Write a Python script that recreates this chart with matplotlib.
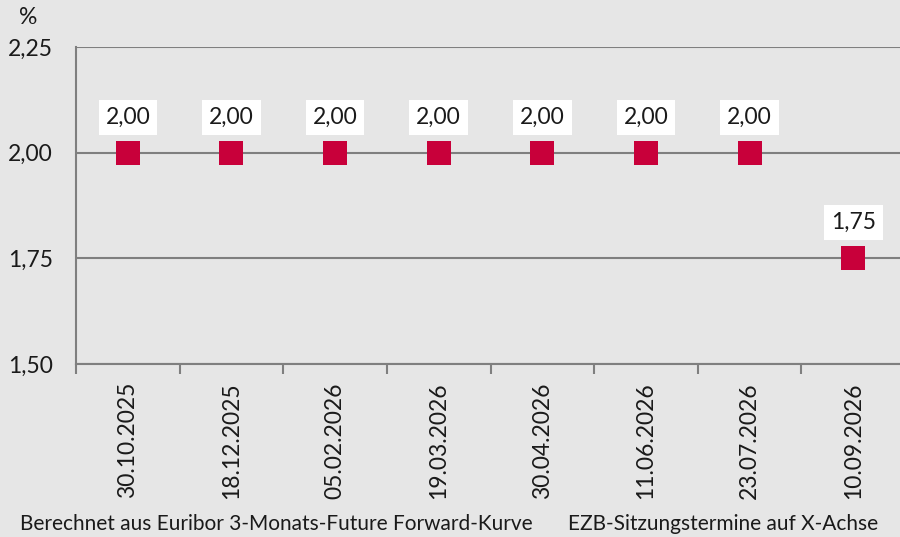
import matplotlib
matplotlib.use("Agg")
import matplotlib.pyplot as plt
import numpy as np

dates = ["30.10.2025", "18.12.2025", "05.02.2026", "19.03.2026",
         "30.04.2026", "11.06.2026", "23.07.2026", "10.09.2026"]
rates = [2.00, 2.00, 2.00, 2.00, 2.00, 2.00, 2.00, 1.75]
yticks = [1.50, 1.75, 2.00, 2.25]

plt.rcParams['font.family'] = ['Lato', 'DejaVu Sans']
bg = "#e6e6e6"
grid_c = "#7f7f7f"
red = "#c8003a"

W, H = 900, 537
fig = plt.figure(figsize=(W/100, H/100), dpi=100, facecolor=bg)
left, right, top, bottom = 76, 905, 47, 364
ax = fig.add_axes([left/W, 1-bottom/H, (right-left)/W, (bottom-top)/H])
ax.set_facecolor(bg)

x = np.arange(len(dates))
ax.set_xlim(-0.5, len(dates)-0.5)
ax.set_ylim(1.50, 2.25)

ax.scatter(x, rates, marker='s', s=(17.5)**2, color=red, zorder=5, linewidths=0)

for xi, r in zip(x, rates):
    ax.annotate(f"{r:.2f}".replace(".", ","), (xi, r), xytext=(0, 25),
                textcoords='offset pixels', ha='center', va='bottom',
                fontsize=16.5, color='#1a1a1a', zorder=6,
                bbox=dict(boxstyle='square,pad=0.3', fc='white', ec='none'))

ax.set_yticks(yticks)
ax.set_yticklabels([f"{v:.2f}".replace(".", ",") for v in yticks], fontsize=16.5, color='#1a1a1a')
ax.tick_params(axis='y', length=0, pad=16.5)
ax.yaxis.grid(True, color=grid_c, linewidth=1.5)
ax.set_axisbelow(True)

ax.set_xticks(x)
ax.set_xticklabels(dates, rotation=90, fontsize=16.5, color='#1a1a1a')
ax.tick_params(axis='x', which='major', length=0, pad=13)
ax.set_xticks(np.arange(-0.5, len(dates)), minor=True)
ax.tick_params(axis='x', which='minor', length=7, width=1.5, color=grid_c)

for s in ['top', 'right']:
    ax.spines[s].set_visible(False)
for s in ['left', 'bottom']:
    ax.spines[s].set_color(grid_c)
    ax.spines[s].set_linewidth(1.5)

fig.text(28/W, 1-18/H, "%", fontsize=16.5, ha='center', va='center', color='#1a1a1a')
fig.text(20/W, 1-524/H, "Berechnet aus Euribor 3-Monats-Future Forward-Kurve",
         fontsize=15, ha='left', va='center', color='#1a1a1a')
fig.text(878/W, 1-524/H, "EZB-Sitzungstermine auf X-Achse",
         fontsize=15, ha='right', va='center', color='#1a1a1a')

fig.savefig("out.png", dpi=100, facecolor=bg)
